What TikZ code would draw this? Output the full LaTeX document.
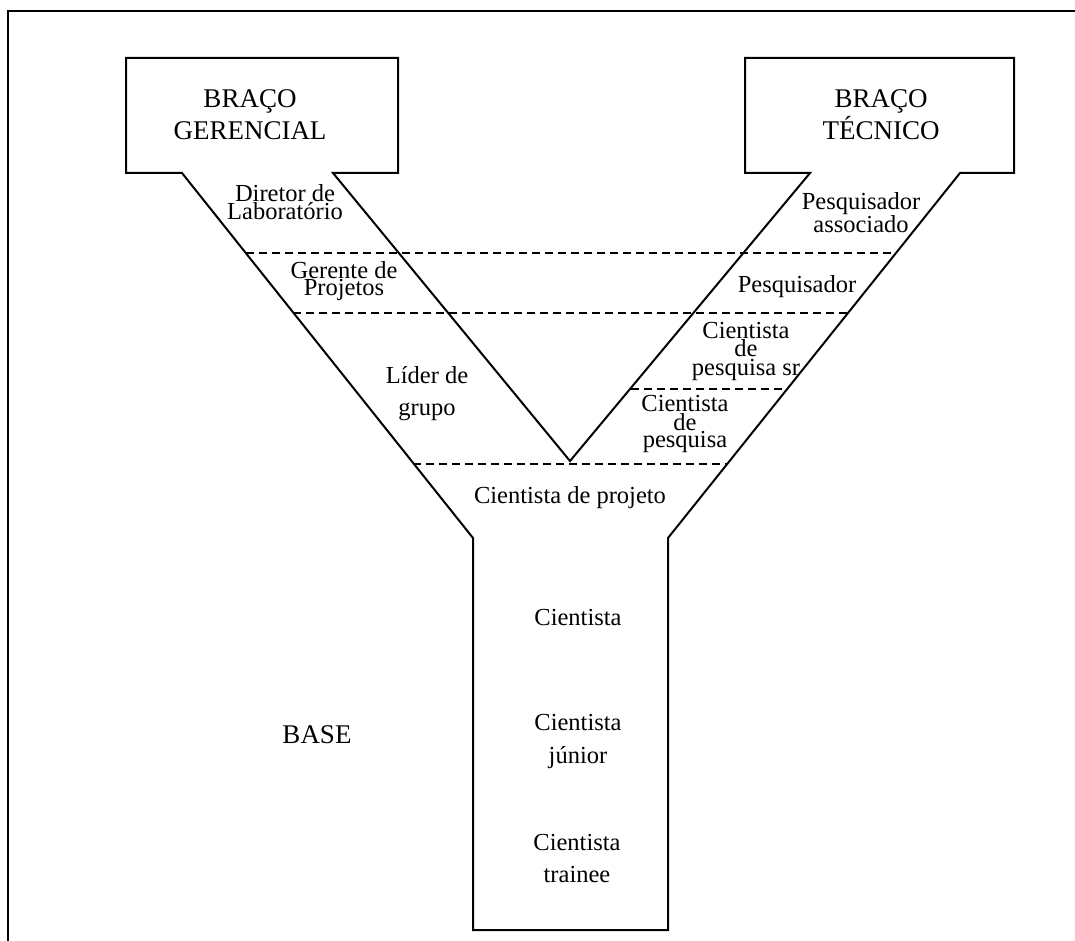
\documentclass[tikz,border=0pt]{standalone}
\usepackage{fontspec}
\setmainfont{Liberation Serif}
\begin{document}
\begin{tikzpicture}[x=1pt,y=-1pt,
  outline/.style={line width=2pt, line join=miter},
  sep/.style={line width=2pt, dash pattern=on 8pt off 5pt},
  big/.style={font=\fontsize{27}{32}\selectfont, align=center, anchor=base, inner sep=0pt},
  lbl/.style={font=\fontsize{24.5}{17}\selectfont, align=center, anchor=base, inner sep=0pt}]
\useasboundingbox (0,0) rectangle (1075,941);
\begin{scope}
\clip (0,0) rectangle (1075,941);
\draw[outline] (1090,11) -| (8,960);
\end{scope}
% outline coordinates
\coordinate (lo) at (182,173);
\coordinate (lbl) at (126,173);
\coordinate (ltl) at (126,58);
\coordinate (ltr) at (398,58);
\coordinate (lbr) at (398,173);
\coordinate (li) at (333,173);
\coordinate (v) at (570,461);
\coordinate (ri) at (810,173);
\coordinate (rbl) at (745,173);
\coordinate (rtl) at (745,58);
\coordinate (rtr) at (1014,58);
\coordinate (rbr) at (1014,173);
\coordinate (ro) at (960,173);
\coordinate (sr) at (668,538);
\coordinate (sbr) at (668,930);
\coordinate (sbl) at (473,930);
\coordinate (sl) at (473,538);
\draw[outline] (lo) -- (lbl) -- (ltl) -- (ltr) -- (lbr) -- (li) -- (v) -- (ri) -- (rbl) -- (rtl) -- (rtr) -- (rbr) -- (ro) -- (sr) -- (sbr) -- (sbl) -- (sl) -- cycle;
% dashed separators
\coordinate (d1l) at (246,253); \coordinate (d1r) at (895,253);
\coordinate (d2l) at (293,313); \coordinate (d2r) at (847,313);
\coordinate (d3l) at (631,389); \coordinate (d3r) at (787,389);
\coordinate (d4l) at (413,464); \coordinate (d4r) at (727,464);
\draw[sep] (d1l) -- (d1r);
\draw[sep] (d2l) -- (d2r);
\draw[sep] (d3l) -- (d3r);
\draw[sep] (d4l) -- (d4r);
% labels (anchor = baseline of last line)
\node[big] (bg) at (250,140) {BRAÇO\\GERENCIAL};
\node[big] (bt) at (881,140) {BRAÇO\\TÉCNICO};
\node[big] (base) at (317,743) {BASE};
\node[lbl] (dir) at (285,220) {Diretor de\\Laboratório};
\node[lbl] (ger) at (344,295) {Gerente de\\Projetos};
\node[lbl, font=\fontsize{24.5}{32}\selectfont] (lid) at (427,415) {Líder de\\grupo};
\node[lbl, font=\fontsize{24.5}{16}\selectfont] (pa) at (861,233) {Pesquisador\\associado};
\node[lbl] (pq) at (797,292) {Pesquisador};
\node[lbl, font=\fontsize{24.5}{18.5}\selectfont] (cps) at (746,375) {Cientista\\de\\pesquisa sr};
\node[lbl, font=\fontsize{24.5}{17}\selectfont] (cp) at (685,447) {Cientista\\de\\pesquisa};
\node[lbl] (cpj) at (570,503) {Cientista de projeto};
\node[lbl] (c1) at (578,625) {Cientista};
\node[lbl, font=\fontsize{24.5}{33}\selectfont] (c2) at (578,763) {Cientista\\júnior};
\node[lbl, font=\fontsize{24.5}{32}\selectfont] (c3) at (577,882) {Cientista\\trainee};
\end{tikzpicture}
\end{document}
